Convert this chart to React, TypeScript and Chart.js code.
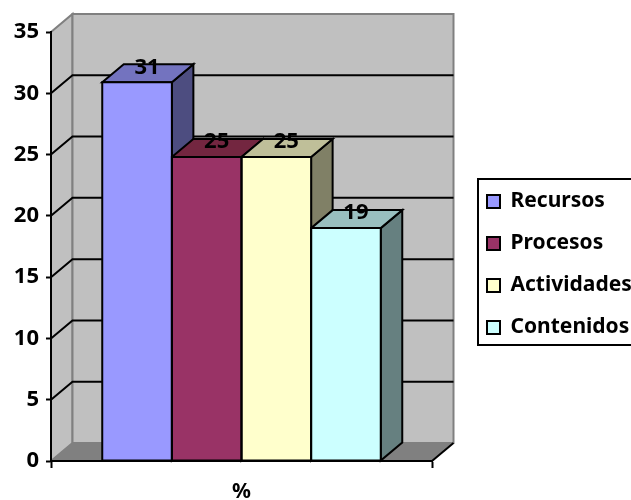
import React, { useEffect, useRef } from "react";
import { Chart, registerables } from "chart.js";

Chart.register(...registerables);

const categories = ["%"];
const seriesNames = ["Recursos", "Procesos", "Actividades", "Contenidos"];
const recursos = [30.9];
const procesos = [24.8];
const actividades = [24.8];
const contenidos = [19.0];
const seriesValues = [recursos, procesos, actividades, contenidos];

const FRONT = ["#9999FF", "#993366", "#FFFFCC", "#CCFFFF"];
const TOP = ["#7373BF", "#732640", "#BFBF99", "#99BFBF"];
const SIDE = ["#4D4D80", "#4D1A33", "#808066", "#668080"];
const DX = 21.5;
const DY = 18;
const FONT = "'Noto Sans', sans-serif";

function poly(ctx: CanvasRenderingContext2D, pts: number[][], fill: string | null, stroke: string | null, lw = 2) {
  ctx.beginPath();
  pts.forEach((p, i) => (i ? ctx.lineTo(p[0], p[1]) : ctx.moveTo(p[0], p[1])));
  ctx.closePath();
  if (fill) {
    ctx.fillStyle = fill;
    ctx.fill();
  }
  if (stroke) {
    ctx.strokeStyle = stroke;
    ctx.lineWidth = lw;
    ctx.lineJoin = "miter";
    ctx.stroke();
  }
}

const box3d = {
  id: "box3d",
  beforeDraw(chart: any) {
    const { ctx, chartArea: a, scales } = chart;
    const lg = chart.legend;
    lg.left = 466;
    lg.top = 170;
    lg.right = 631;
    lg.bottom = 500;
    lg.width = 165;
    lg.height = 330;
    ctx.save();
    ctx.fillStyle = "#fff";
    ctx.fillRect(0, 0, chart.width, chart.height);
    // legend frame
    ctx.strokeStyle = "#000";
    ctx.lineWidth = 2;
    ctx.strokeRect(478, 179, 160, 166);
    // left wall, back wall and floor
    const G = "#808080";
    const W = "#C0C0C0";
    poly(ctx, [[a.left, a.top], [a.left + DX, a.top - DY], [a.left + DX, a.bottom - DY], [a.left, a.bottom]], W, G);
    poly(ctx, [[a.left + DX, a.top - DY], [a.right + DX, a.top - DY], [a.right + DX, a.bottom - DY], [a.left + DX, a.bottom - DY]], W, G);
    poly(ctx, [[a.left, a.bottom], [a.left + DX, a.bottom - DY], [a.right + DX, a.bottom - DY], [a.right, a.bottom]], G, null);
    ctx.strokeStyle = "#000";
    ctx.lineWidth = 2;
    ctx.beginPath();
    ctx.moveTo(a.right, a.bottom);
    ctx.lineTo(a.right + DX, a.bottom - DY);
    ctx.stroke();
    // gridlines on the walls
    scales.y.ticks.forEach((t: any) => {
      if (t.value === 0 || t.value === 35) return;
      const y = scales.y.getPixelForValue(t.value);
      ctx.beginPath();
      ctx.moveTo(a.left, y);
      ctx.lineTo(a.left + DX, y - DY);
      ctx.lineTo(a.right + DX, y - DY);
      ctx.stroke();
    });
    ctx.restore();
  },
  beforeDatasetsDraw(chart: any) {
    const { ctx } = chart;
    ctx.save();
    chart.data.datasets.forEach((_: any, i: number) => {
      const b = chart.getDatasetMeta(i).data[0];
      const l = b.x - b.width / 2;
      const r = b.x + b.width / 2;
      const t = b.y;
      const bo = b.base;
      poly(ctx, [[r, t], [r + DX, t - DY], [r + DX, bo - DY], [r, bo]], SIDE[i], "#000");
      poly(ctx, [[l, t], [l + DX, t - DY], [r + DX, t - DY], [r, t]], TOP[i], "#000");
    });
    ctx.restore();
  },
  afterDatasetsDraw(chart: any) {
    const { ctx } = chart;
    ctx.save();
    chart.data.datasets.forEach((ds: any, i: number) => {
      const b = chart.getDatasetMeta(i).data[0];
      const l = b.x - b.width / 2;
      const r = b.x + b.width / 2;
      poly(ctx, [[l, b.y], [r, b.y], [r, b.base], [l, b.base]], null, "#000");
    });
    ctx.fillStyle = "#000";
    ctx.font = `bold 22px ${FONT}`;
    ctx.textAlign = "center";
    ctx.textBaseline = "middle";
    chart.data.datasets.forEach((ds: any, i: number) => {
      const b = chart.getDatasetMeta(i).data[0];
      ctx.fillText(Math.round(ds.data[0]).toString(), b.x + 10, b.y - 15);
    });
    ctx.restore();
  },
};

export default function App() {
  const ref = useRef<HTMLCanvasElement | null>(null);
  useEffect(() => {
    const chart = new Chart(ref.current as HTMLCanvasElement, {
      type: "bar",
      data: {
        labels: categories,
        datasets: seriesNames.map((name, i) => ({
          label: name,
          data: seriesValues[i],
          backgroundColor: FRONT[i],
          borderWidth: 0,
          barPercentage: 1,
          categoryPercentage: 0.731,
        })),
      },
      options: {
        responsive: false,
        animation: false,
        layout: { padding: { top: 32, right: 198, left: 0, bottom: 0 } },
        plugins: {
          tooltip: { enabled: false },
          legend: {
            position: "right",
            align: "start",
            maxWidth: 1,
            labels: {
              color: "#000",
              font: { family: FONT, weight: "bold", size: 21 },
              boxWidth: 13,
              boxHeight: 13,
              padding: 21,
              generateLabels: (c: any) =>
                c.data.datasets.map((d: any, i: number) => ({
                  text: d.label,
                  fillStyle: d.backgroundColor,
                  strokeStyle: "#000",
                  fontColor: "#000",
                  lineWidth: 2,
                  hidden: false,
                  datasetIndex: i,
                })),
            },
          },
        },
        scales: {
          x: {
            afterFit: (s: any) => {
              s.height = 39;
            },
            grid: { drawOnChartArea: false, color: "#000", tickLength: 7, tickWidth: 2 },
            border: { color: "#000", width: 2 },
            ticks: { color: "#000", font: { family: FONT, weight: "bold", size: 21 }, padding: 11 },
          },
          y: {
            min: 0,
            max: 35,
            afterFit: (s: any) => {
              s.width = 51;
            },
            grid: { drawOnChartArea: false, color: "#000", tickLength: 5, tickWidth: 2 },
            border: { color: "#000", width: 2 },
            ticks: { stepSize: 5, color: "#000", font: { family: FONT, weight: "bold", size: 22 }, padding: 7 },
          },
        },
      },
      plugins: [box3d],
    } as any);
    return () => chart.destroy();
  }, []);
  return (
    <div style={{ position: "absolute", left: 0, top: 0, width: 631, height: 500, background: "#fff" }}>
      <canvas ref={ref} width={631} height={500} style={{ display: "block" }} />
    </div>
  );
}
